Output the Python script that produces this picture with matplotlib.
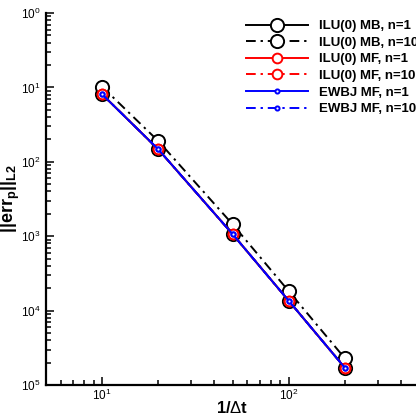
import matplotlib
matplotlib.use('Agg')
import matplotlib.pyplot as plt
from matplotlib.ticker import LogLocator, FixedLocator, NullFormatter

plt.rcParams['font.family'] = ['Liberation Sans', 'DejaVu Sans']
plt.rcParams['mathtext.fontset'] = 'custom'
plt.rcParams['mathtext.rm'] = 'Liberation Sans'
plt.rcParams['mathtext.bf'] = 'Liberation Sans:bold'
plt.rcParams['mathtext.it'] = 'Liberation Sans:italic'

# time step refinement and L2 pressure error
inv_dt = [10, 20, 50, 100, 200]
err_mb_n1 = [0.0807, 0.0147, 1.07e-3, 1.36e-4, 1.71e-5]
err_mb_n10 = [0.102, 0.0190, 1.45e-3, 1.83e-4, 2.29e-5]
err_mf_n1 = [0.0807, 0.0147, 1.07e-3, 1.36e-4, 1.71e-5]
err_mf_n10 = [0.0807, 0.0147, 1.07e-3, 1.36e-4, 1.71e-5]
err_ewbj_n1 = [0.0807, 0.0147, 1.07e-3, 1.36e-4, 1.71e-5]
err_ewbj_n10 = [0.0807, 0.0147, 1.07e-3, 1.36e-4, 1.71e-5]

labels = ['ILU(0) MB, n=1', 'ILU(0) MB, n=10', 'ILU(0) MF, n=1',
          'ILU(0) MF, n=10', 'EWBJ MF, n=1', 'EWBJ MF, n=10']

y_ticks = [1, 1e-1, 1e-2, 1e-3, 1e-4, 1e-5]
y_ticklabels = [r'$\mathregular{10^{%d}}$' % k for k in range(6)]
x_ticks = [10, 100]
x_ticklabels = [r'$\mathregular{10^{1}}$', r'$\mathregular{10^{2}}$']

dashdot = (0, (5, 2.5, 1.2, 2.5))

fig = plt.figure(figsize=(4.16, 4.17), dpi=100)
ax = fig.add_axes([46 / 416, 32 / 417, 373 / 416, 372 / 417])

series = [
    (err_mb_n1, 'k', '-', 9.5),
    (err_mb_n10, 'k', dashdot, 9.5),
    (err_mf_n1, 'red', '-', 7),
    (err_mf_n10, 'red', dashdot, 7),
    (err_ewbj_n1, 'blue', '-', 3),
    (err_ewbj_n10, 'blue', dashdot, 3),
]
for (vals, c, ls, ms), lab in zip(series, labels):
    ax.plot(inv_dt, vals, color=c, linestyle=ls, lw=1.4, marker='o',
            ms=ms, mfc='white', mec=c, mew=1.4, label=lab)

ax.set_xscale('log')
ax.set_yscale('log')
ax.set_xlim(5, 500)
ax.set_ylim(1e-5, 1)

ax.yaxis.set_major_locator(FixedLocator(y_ticks))
ax.set_yticklabels(y_ticklabels)
ax.yaxis.set_minor_locator(LogLocator(base=10, subs=range(2, 10)))
ax.yaxis.set_minor_formatter(NullFormatter())
ax.xaxis.set_major_locator(FixedLocator(x_ticks))
ax.set_xticklabels(x_ticklabels)
ax.xaxis.set_minor_locator(LogLocator(base=10, subs=range(2, 10)))
ax.xaxis.set_minor_formatter(NullFormatter())

ax.tick_params(which='both', direction='in', labelsize=8.5, width=1.1)
ax.tick_params(which='major', length=6)
ax.tick_params(axis='y', which='major', pad=4)
ax.tick_params(axis='x', which='major', pad=2)
ax.tick_params(which='minor', length=3.5)
ax.tick_params(top=False, right=False, which='both')
ax.spines['top'].set_visible(False)
ax.spines['right'].set_visible(False)
for s in ('left', 'bottom'):
    ax.spines[s].set_linewidth(1.6)

ax.set_xlabel(r'1/$\Delta$t', fontsize=12, fontweight='bold', labelpad=-2)
ax.set_ylabel(r'$\mathbf{||err_{p}||_{L2}}$', fontsize=13, labelpad=-1)

leg = ax.legend(loc='upper left', bbox_to_anchor=(246 / 416, 1 - 20 / 417),
                bbox_transform=fig.transFigure, frameon=False, numpoints=1,
                handlelength=4.7, handletextpad=0.8, labelspacing=0.33,
                borderpad=0, borderaxespad=0, prop={'size': 9.5, 'weight': 'bold'})

fig.savefig('out.png', dpi=100)
